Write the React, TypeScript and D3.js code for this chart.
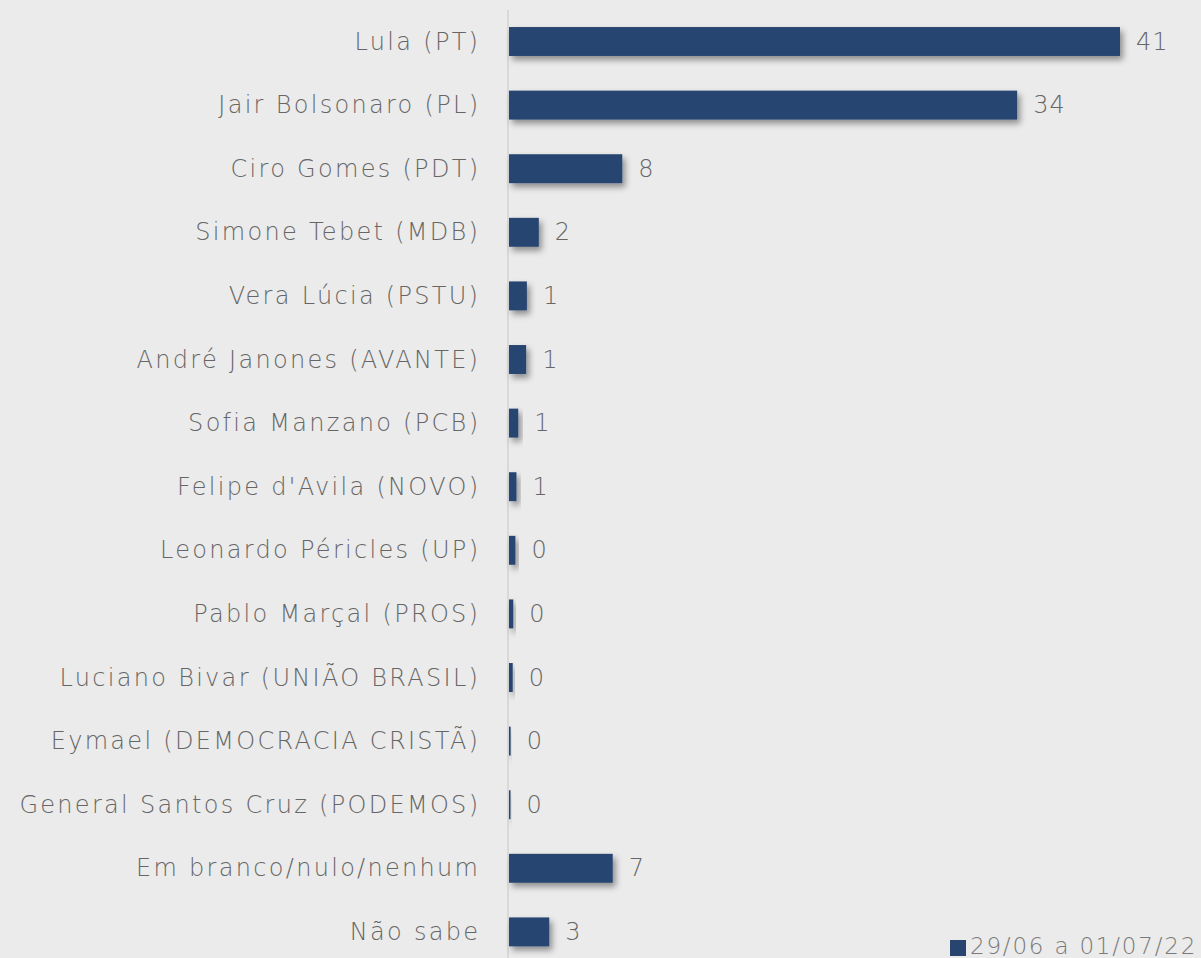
import React from "react";
import * as d3 from "d3";

const categories = [
  "Lula (PT)",
  "Jair Bolsonaro (PL)",
  "Ciro Gomes (PDT)",
  "Simone Tebet (MDB)",
  "Vera Lúcia (PSTU)",
  "André Janones (AVANTE)",
  "Sofia Manzano (PCB)",
  "Felipe d'Avila (NOVO)",
  "Leonardo Péricles (UP)",
  "Pablo Marçal (PROS)",
  "Luciano Bivar (UNIÃO BRASIL)",
  "Eymael (DEMOCRACIA CRISTÃ)",
  "General Santos Cruz (PODEMOS)",
  "Em branco/nulo/nenhum",
  "Não sabe",
];
const values = [41, 34.1, 7.6, 2.0, 1.2, 1.15, 0.62, 0.5, 0.43, 0.29, 0.25, 0.11, 0.1, 6.96, 2.7];
const valueLabels = ["41", "34", "8", "2", "1", "1", "1", "1", "0", "0", "0", "0", "0", "7", "3"];
const seriesName = "29/06 a 01/07/22";

const W = 1201;
const H = 958;
const FONT = "'DejaVu Sans', sans-serif";
const LS = 2.3;
const FS = 24;

export default function App() {
  const x = d3.scaleLinear().domain([0, 41]).range([509, 1120]);
  const y = d3
    .scaleBand<string>()
    .domain(categories)
    .range([9.7, 9.7 + 15 * 63.6])
    .paddingInner(0.545)
    .paddingOuter(0.2725);

  return (
    <svg
      width={W}
      height={H}
      style={{ position: "absolute", left: 0, top: 0, background: "#ebebeb" }}
    >
      <defs>
        <filter id="shadow" x="-50%" y="-50%" width="200%" height="200%">
          <feDropShadow dx="3" dy="4" stdDeviation="3" floodColor="#000" floodOpacity="0.4" />
        </filter>
      </defs>
      <rect x={0} y={0} width={W} height={H} fill="#ebebeb" />
      <line x1={508} x2={508} y1={10} y2={H} stroke="#d9d9d9" strokeWidth={2} />
      {categories.map((c, i) => {
        const yy = y(c)!;
        const bw = y.bandwidth();
        return (
          <g key={c}>
            <rect
              x={x(0)}
              y={yy}
              width={x(values[i]) - x(0)}
              height={bw}
              fill="#284570"
              filter="url(#shadow)"
            />
            <text
              x={478 + LS}
              y={yy + bw / 2}
              textAnchor="end"
              dominantBaseline="central"
              fontFamily={FONT}
              fontWeight={300}
              fontSize={FS}
              letterSpacing={LS}
              fill="#666666"
            >
              {c}
            </text>
            <text
              x={x(values[i]) + 16}
              y={yy + bw / 2}
              dominantBaseline="central"
              fontFamily={FONT}
              fontWeight={300}
              fontSize={FS}
              letterSpacing={1}
              fill="#666666"
            >
              {valueLabels[i]}
            </text>
          </g>
        );
      })}
      <rect x={950} y={940} width={16} height={16} fill="#284570" />
      <text
        x={970}
        y={954}
        fontFamily={FONT}
        fontWeight={300}
        fontSize={23}
        letterSpacing={1.8}
        fill="#7a7a7a"
      >
        {seriesName}
      </text>
    </svg>
  );
}
